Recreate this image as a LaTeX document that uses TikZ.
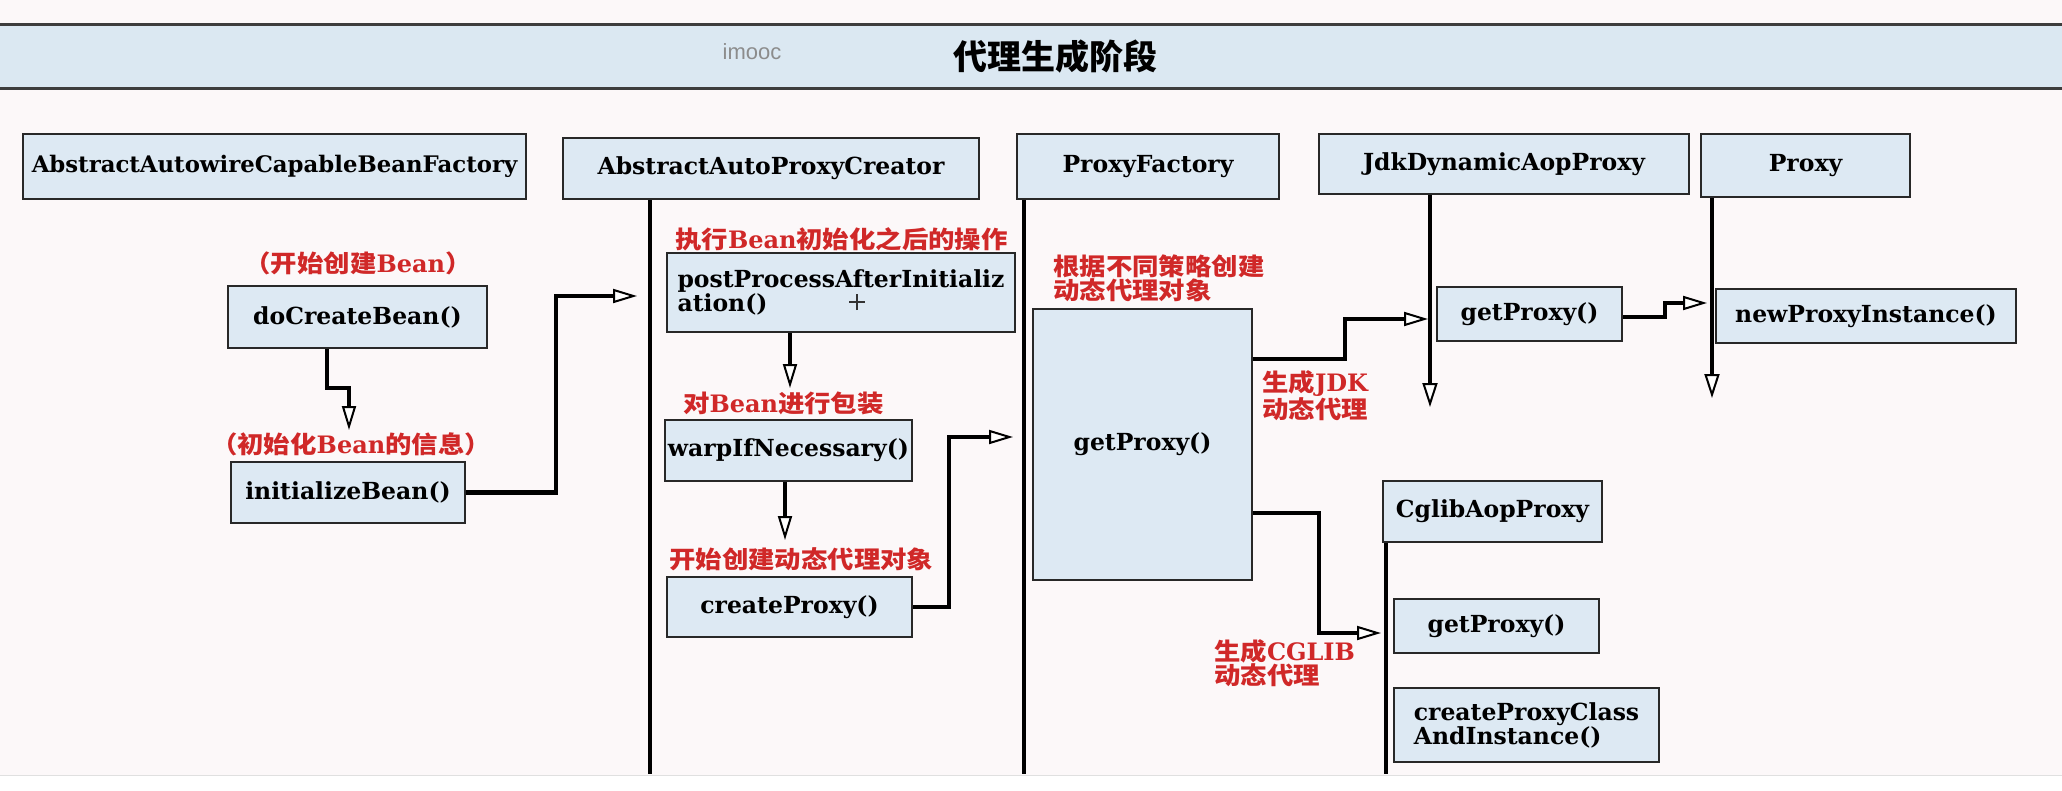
\documentclass[tikz,border=0pt]{standalone}
\usepackage{graphicx}
\usepackage{fontspec}
\setmainfont{DejaVu Serif}
\newfontfamily\cjk{Noto Sans CJK SC}
\newfontfamily\lsans{Liberation Sans}
\usetikzlibrary{arrows.meta}
\definecolor{boxblue}{RGB}{221,233,243}
\definecolor{barblue}{RGB}{219,232,242}
\definecolor{labred}{RGB}{208,40,40}
\definecolor{bgpink}{RGB}{252,248,249}
\definecolor{edge}{RGB}{40,40,40}
\newcommand\cn[1]{\scalebox{1.1}[1]{\cjk\bfseries #1}}
\begin{document}
\begin{tikzpicture}[x=1pt,y=-1pt,
  box/.style={draw=edge, line width=2pt, fill=boxblue, inner sep=0pt, font=\bfseries\fontsize{23.5}{24}\selectfont, align=center},
  lab/.style={text=labred, font=\bfseries\fontsize{24}{23}\selectfont, inner sep=0pt, align=left},
  conn/.style={line width=4.5pt, line join=miter, -{Triangle[length=24pt,width=14pt,fill=white,line width=2pt]}},
  life/.style={line width=4.5pt},
  lifea/.style={life, -{Triangle[length=24pt,width=15pt,fill=white,line width=2pt]}}
]
\useasboundingbox (0,0) rectangle (2062,790);
\fill[bgpink] (0,0) rectangle (2062,775);
\fill[white] (0,775) rectangle (2062,790);
\draw[black!12, line width=1pt] (0,775) -- (2062,775);

% title bar
\node[fill=barblue, minimum width=2062pt, minimum height=64pt, inner sep=0pt] (bar) at (1031,56.5) {};
\draw[edge!90, line width=3pt] (bar.north west) -- (bar.north east);
\draw[edge!90, line width=3pt] (bar.south west) -- (bar.south east);
\node[font=\cjk\bfseries\fontsize{34}{34}\selectfont, inner sep=0pt] (title) at (1055,57) {代理生成阶段};
\node[font=\lsans\fontsize{22}{22}\selectfont, text=black!45, inner sep=0pt] (wm) at (752,52) {imooc};

% boxes
\node[box, minimum width=503pt, minimum height=65pt, font=\bfseries\fontsize{22.8}{24}\selectfont] (aacbf) at (274.5,166.5) {AbstractAutowireCapableBeanFactory};
\node[box, minimum width=416pt, minimum height=61pt] (apc) at (771,168.5) {AbstractAutoProxyCreator};
\node[box, minimum width=262pt, minimum height=65pt] (pf) at (1148,166.5) {ProxyFactory};
\node[box, minimum width=370pt, minimum height=60pt] (jdk) at (1504,164) {JdkDynamicAopProxy};
\node[box, minimum width=209pt, minimum height=63pt] (proxy) at (1805.5,165.5) {Proxy};
\node[box, minimum width=259pt, minimum height=62pt] (dcb) at (357.5,317) {doCreateBean()};
\node[box, minimum width=234pt, minimum height=61pt] (ib) at (348,492.5) {initializeBean()};
\node[box, minimum width=348pt, minimum height=79pt, align=left] (ppai) at (841,292.5) {postProcessAfterInitializ\\ation()};
\node[box, minimum width=247pt, minimum height=61pt] (wrap) at (788.5,450.5) {warpIfNecessary()};
\node[box, minimum width=245pt, minimum height=60pt] (cp) at (789.5,607) {createProxy()};
\node[box, minimum width=219pt, minimum height=271pt] (pfgp) at (1142.5,444.5) {getProxy()};
\node[box, minimum width=185pt, minimum height=54pt] (jgp) at (1529.5,314) {getProxy()};
\node[box, minimum width=300pt, minimum height=54pt] (npi) at (1866,316) {newProxyInstance()};
\node[box, minimum width=219pt, minimum height=61pt] (cglib) at (1492.5,511.5) {CglibAopProxy};
\node[box, minimum width=205pt, minimum height=54pt] (cgp) at (1496.5,626) {getProxy()};
\node[box, minimum width=265pt, minimum height=74pt, align=left] (cpcai) at (1526.5,725) {createProxyClass\\AndInstance()};

% cursor mark inside postProcessAfterInitialization box
\coordinate (cur) at (857,302);
\draw[black!80, line width=1.2pt] ([xshift=-8pt]cur) -- ([xshift=8pt]cur);
\draw[black!80, line width=1.2pt] ([yshift=-8pt]cur) -- ([yshift=8pt]cur);

% labels
\node[lab] (l1) at (358,263) {\cn{（开始创建}Bean\cn{）}};
\node[lab] (l2) at (351,444) {\cn{（初始化}Bean\cn{的信息）}};
\node[lab, anchor=west] (l3) at (675,239) {\cn{执行}Bean\cn{初始化之后的操作}};
\node[lab, anchor=west] (l4) at (683,403) {\cn{对}Bean\cn{进行包装}};
\node[lab, anchor=west] (l5) at (669,559) {\cn{开始创建动态代理对象}};
\node[lab, anchor=west] (l6) at (1053,278) {\cn{根据不同策略创建}\\\cn{动态代理对象}};
\node[lab, anchor=west] (l7) at (1262,396) {\cn{生成}JDK\\\cn{动态代理}};
\node[lab, anchor=west] (l8) at (1214,663) {\cn{生成}CGLIB\\\cn{动态代理}};

% coordinates
\coordinate (a1) at (349,430);
\coordinate (c2m) at (556,296); \coordinate (a2) at (637,296);
\coordinate (a3) at (790,388);
\coordinate (a4) at (785,540);
\coordinate (c5m) at (949,437); \coordinate (a5) at (1013,437);
\coordinate (c6y) at (0,359); \coordinate (c6m) at (1345,319); \coordinate (a6) at (1428,319);
\coordinate (c7y) at (0,317); \coordinate (c7m) at (1665,303); \coordinate (a7) at (1707,303);
\coordinate (c8y) at (0,513); \coordinate (c8m) at (1319,633); \coordinate (a8) at (1381,633);
\coordinate (e1) at (650,774);
\coordinate (e2) at (1024,774);
\coordinate (e3) at (1430,407);
\coordinate (e4) at (1712,398);
\coordinate (e5) at (1386,774);

% lifelines
\draw[life] (apc.south -| e1) -- (e1);
\draw[life] (pf.south -| e2) -- (e2);
\draw[lifea] (jdk.south -| e3) -- (e3);
\draw[lifea] (proxy.south -| e4) -- (e4);
\draw[life] (cglib.south -| e5) -- (e5);

% connectors
\draw[conn] ([xshift=-30.5pt]dcb.south) -- ++(0,39) -| (a1);
\draw[conn] (ib.east) -| (c2m) -- (a2);
\draw[conn] (ppai.south -| a3) -- (a3);
\draw[conn] (wrap.south -| a4) -- (a4);
\draw[conn] (cp.east) -| (c5m) -- (a5);
\draw[conn] (pfgp.east |- c6y) -| (c6m) -- (a6);
\draw[conn] (jgp.east |- c7y) -| (c7m) -- (a7);
\draw[conn] (pfgp.east |- c8y) -| (c8m) -- (a8);
\end{tikzpicture}
\end{document}
